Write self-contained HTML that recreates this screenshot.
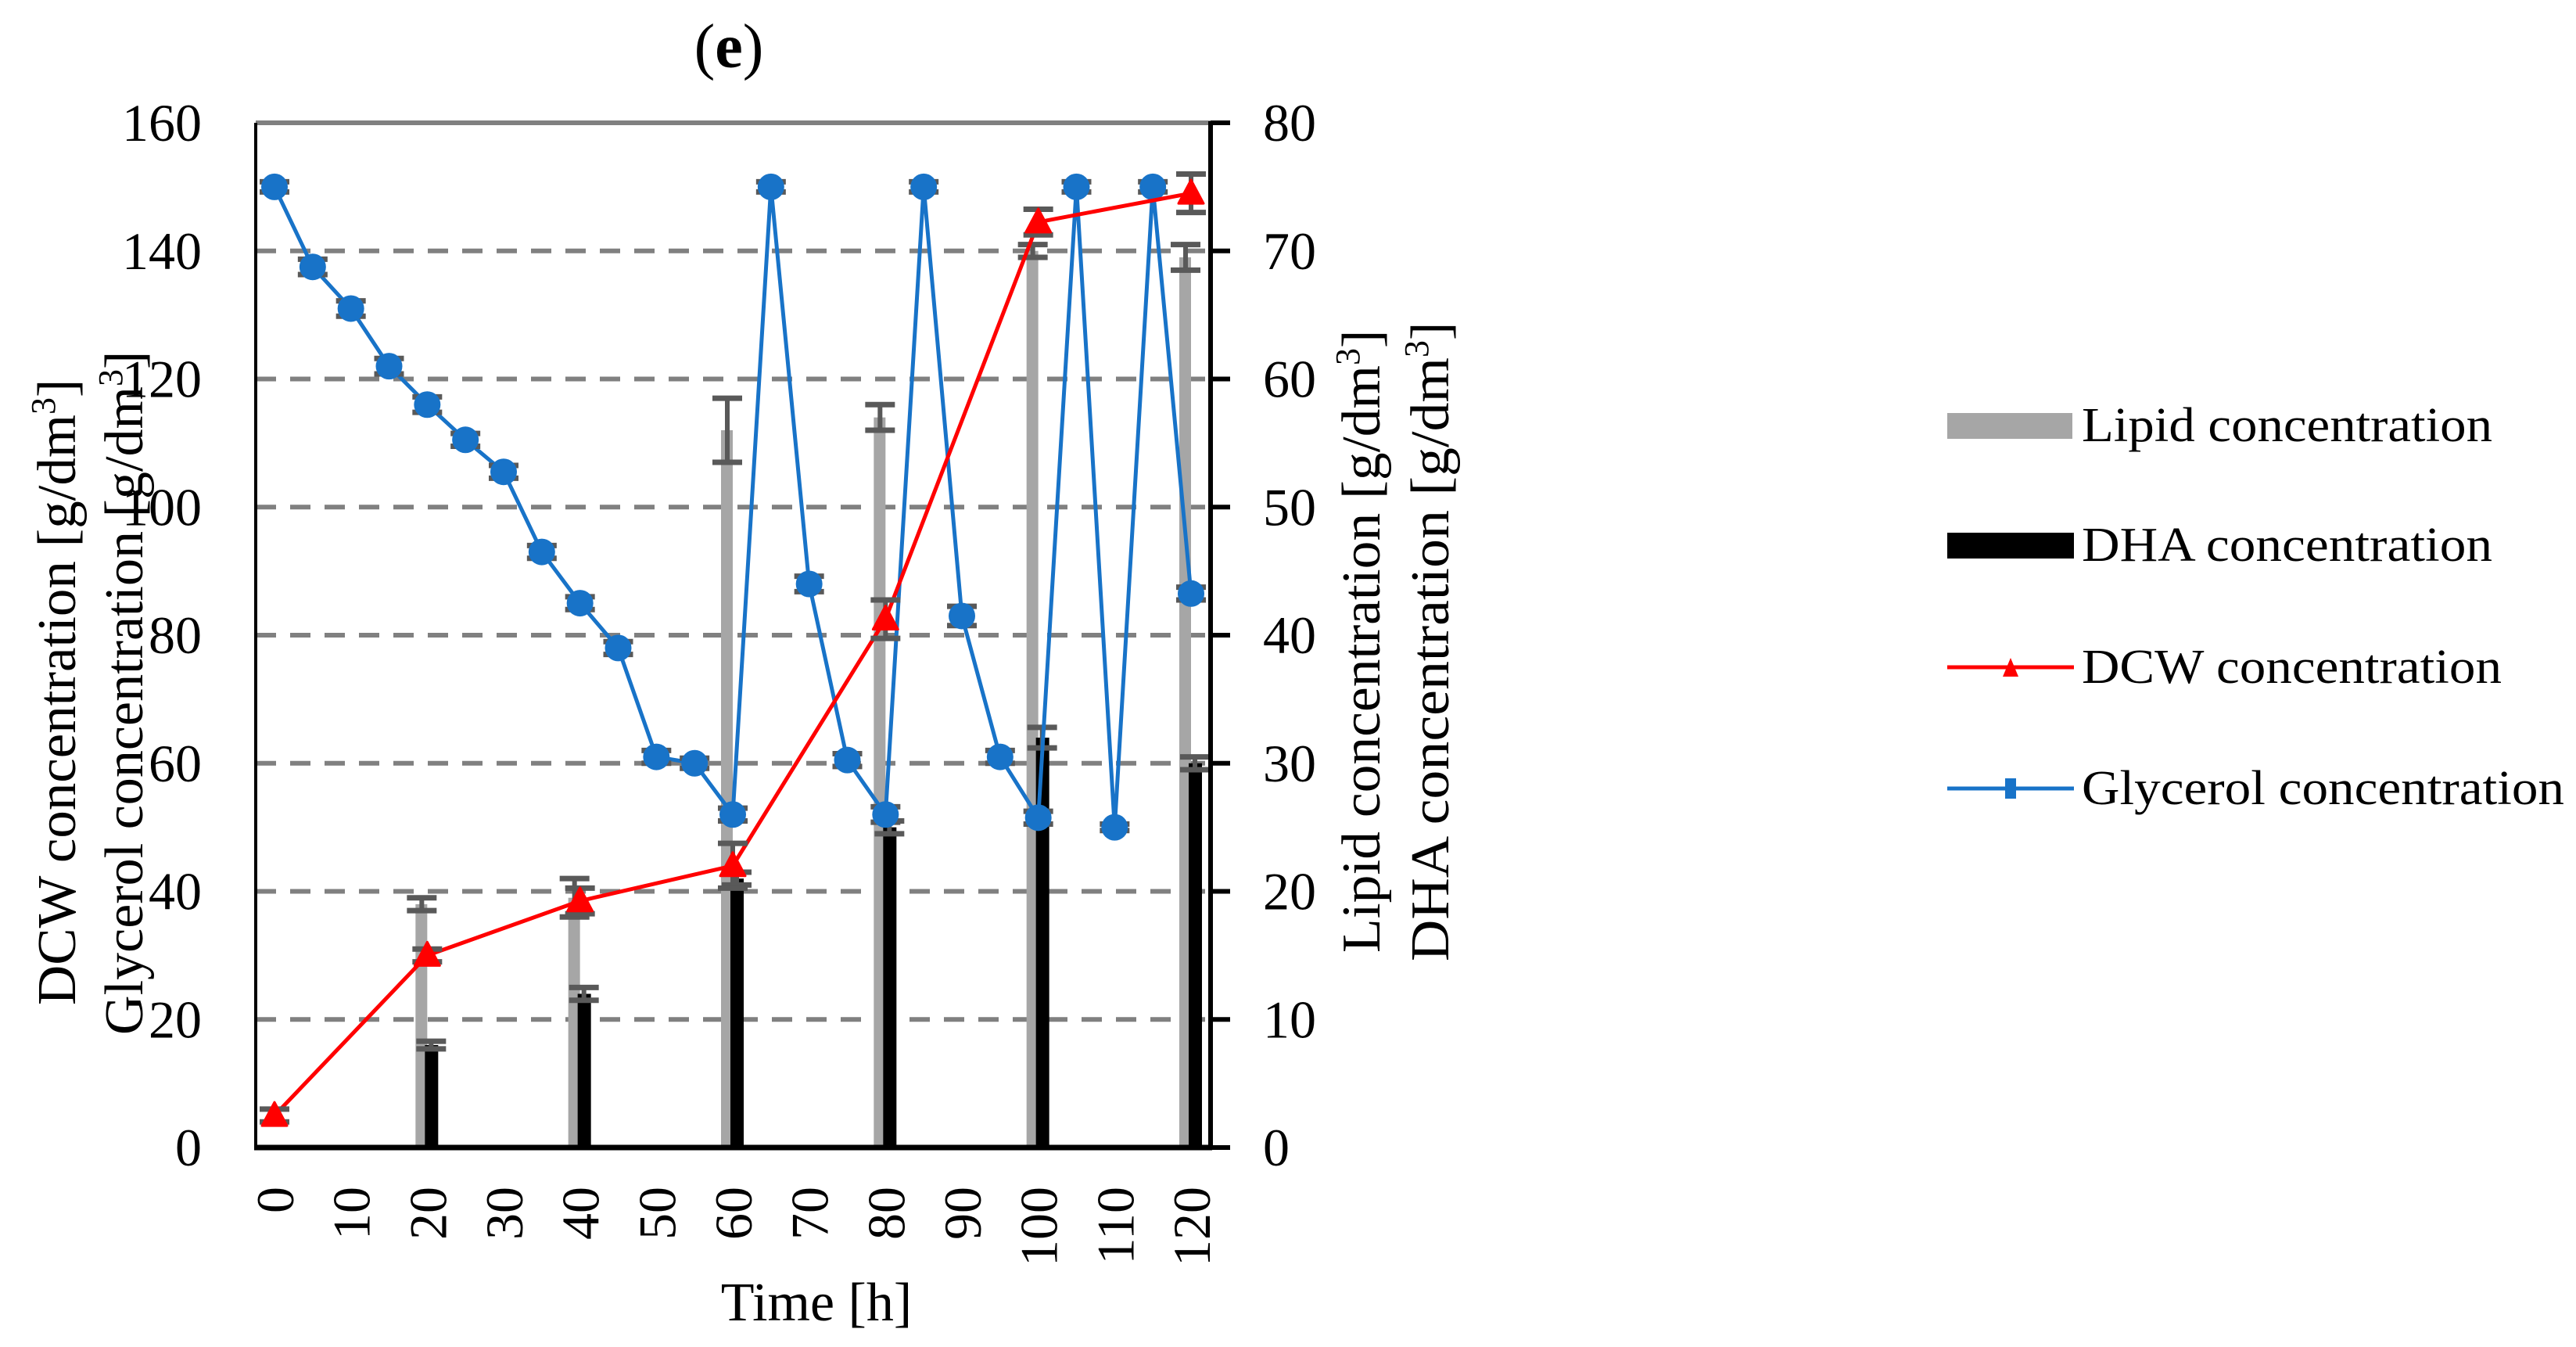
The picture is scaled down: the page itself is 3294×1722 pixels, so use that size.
<!DOCTYPE html>
<html><head><meta charset="utf-8"><style>
html,body{margin:0;padding:0;background:#fff;}
svg{display:block;font-family:"Liberation Serif",serif;}
</style></head><body>
<svg id="chart" width="3294" height="1722" viewBox="0 0 3294 1722" xmlns="http://www.w3.org/2000/svg"></svg>
<script>
const timesGly = [0,5,10,15,20,25,30,35,40,45,50,55,60,65,70,75,80,85,90,95,100,105,110,115,120];
const glycerol = [150,137.5,131,122,116,110.5,105.5,93,85,78,61,60,52,150,88,60.5,52,150,83,61,51.5,150,50,150,86.5];
const glyErr = [0.8,1.2,1.2,1.2,1.2,1,1,1,1,1,1,0.8,1,0.8,1.2,1,1.2,0.8,1.5,1,1,0.8,0.5,0.8,1];
const timesMain = [0,20,40,60,80,100,120];
const dcw = [5,30,38.5,44,82.5,144.5,149];
const dcwErr = [1,1,2,3.5,3,2,3];
const lipid = [0,19,19.5,56,57,70,69.5];
const lipidErr = [0,0.5,1.5,2.5,1,0.5,1];
const dha = [0,8,12,21,25,32,30];
const dhaErr = [0,0.3,0.5,0.5,0.5,0.8,0.5];
const leftTicks = [0,20,40,60,80,100,120,140,160];
const rightTicks = [0,10,20,30,40,50,60,70,80];
const xTicks = [0,10,20,30,40,50,60,70,80,90,100,110,120];

const svg = document.getElementById('chart');
const NS = 'http://www.w3.org/2000/svg';
const L = 327, R = 1548, T = 157, B = 1467;
const X0 = 351, X120 = 1523;
function xs(t){ return X0 + t*(X120-X0)/120; }
function yl(v){ return B - v*(B-T)/160; }
function yr(v){ return B - v*(B-T)/80; }
function mk(tag, attrs, parent){
  const e = document.createElementNS(NS, tag);
  for (const k in attrs) e.setAttribute(k, attrs[k]);
  (parent||svg).appendChild(e);
  return e;
}
function errBar(g, x, y1, y2, w){
  mk('line',{x1:x,x2:x,y1:y1,y2:y2,stroke:'#595959','stroke-width':6},g);
  mk('line',{x1:x-w,x2:x+w,y1:y1,y2:y1,stroke:'#595959','stroke-width':7},g);
  mk('line',{x1:x-w,x2:x+w,y1:y2,y2:y2,stroke:'#595959','stroke-width':7},g);
}

// title
const title = mk('text',{x:932,y:86,'font-size':80,'text-anchor':'middle'});


title.innerHTML = '(<tspan font-weight="bold">e</tspan>)';

// gridlines
const grid = mk('g',{});


leftTicks.forEach(v=>{
  if (v===0 || v===160) return;
  mk('line',{x1:L,x2:R,y1:yl(v),y2:yl(v),stroke:'#808080','stroke-width':6,'stroke-dasharray':'26 18'},grid);
});

// bars
const bars = mk('g',{});


timesMain.forEach((t,i)=>{
  if (lipid[i] <= 0) return;
  const x = xs(t);
  const r1 = mk('rect',{x:x-15,y:yr(lipid[i]),width:15,height:B-yr(lipid[i]),fill:'#a6a6a6'},bars);
  
  
  const r2 = mk('rect',{x:x-3,y:yr(dha[i]),width:17,height:B-yr(dha[i]),fill:'#000'},bars);
  
  
  errBar(bars, x-7, yr(lipid[i]+lipidErr[i]), yr(lipid[i]-lipidErr[i]), 19);
  errBar(bars, x+5, yr(dha[i]+dhaErr[i]), yr(dha[i]-dhaErr[i]), 19);
});

// glycerol line
const gg = mk('g',{});


mk('polyline',{points:timesGly.map((t,i)=>xs(t)+','+yl(glycerol[i])).join(' '),fill:'none',stroke:'#1873c8','stroke-width':5,'stroke-linejoin':'round'},gg);
timesGly.forEach((t,i)=>{
  errBar(gg, xs(t), yl(glycerol[i]+glyErr[i]), yl(glycerol[i]-glyErr[i]), 19);
  const c = mk('circle',{cx:xs(t),cy:yl(glycerol[i]),r:17,fill:'#1873c8'},gg);
  
  
});

// DCW line
const dg = mk('g',{});


mk('polyline',{points:timesMain.map((t,i)=>xs(t)+','+yl(dcw[i])).join(' '),fill:'none',stroke:'#ff0000','stroke-width':5},dg);
timesMain.forEach((t,i)=>{
  errBar(dg, xs(t), yl(dcw[i]+dcwErr[i]), yl(dcw[i]-dcwErr[i]), 19);
  const x = xs(t), y = yl(dcw[i]);
  const p = mk('polygon',{points:(x)+','+(y-17)+' '+(x+16)+','+(y+13)+' '+(x-16)+','+(y+13),fill:'#ff0000',stroke:'#ff0000','stroke-width':3,'stroke-linejoin':'round'},dg);
  
  
});

// axes
const ax = mk('g',{});


mk('line',{x1:L,x2:R,y1:T,y2:T,stroke:'#808080','stroke-width':6},ax);
mk('line',{x1:L,x2:L,y1:T,y2:B+3,stroke:'#000','stroke-width':4},ax);
mk('line',{x1:L-2,x2:R+2,y1:B,y2:B,stroke:'#000','stroke-width':7},ax);
mk('line',{x1:R,x2:R,y1:T-2,y2:B+3,stroke:'#000','stroke-width':6},ax);
rightTicks.forEach(v=>{
  mk('line',{x1:R,x2:R+25,y1:yr(v),y2:yr(v),stroke:'#000','stroke-width':6},ax);
  const tx = mk('text',{x:1615,y:yr(v)+23,'font-size':68});
  
  
  tx.textContent = v;
});
leftTicks.forEach(v=>{
  const tx = mk('text',{x:258,y:yl(v)+23,'font-size':68,'text-anchor':'end'});
  
  
  tx.textContent = v;
});
xTicks.forEach(t=>{
  const tx = mk('text',{x:0,y:0,'font-size':68,'text-anchor':'end',transform:'translate('+(xs(t)+24)+',1517) rotate(-90)'});
  
  
  tx.textContent = t;
});

// axis titles
const xt = mk('text',{x:1044,y:1688,'font-size':70,'text-anchor':'middle'});


xt.textContent = 'Time [h]';
function vtitle(x, y0, y1, name, txt){
  const len = y1 - y0;
  const t = mk('text',{x:0,y:0,'font-size':70,transform:'translate('+x+','+y1+') rotate(-90)'});
  
  
  const main = mk('tspan',{textLength:len-110,lengthAdjust:'spacingAndGlyphs'},t);
  main.textContent = txt + ' [g/dm';
  const sup = mk('tspan',{'font-size':44,dy:-26},t);
  sup.textContent = '3';
  const br = mk('tspan',{dy:26},t);
  br.textContent = ']';
}
vtitle(96, 420, 1285, 'left-axis-title-dcw', 'DCW concentration');
vtitle(182, 384, 1323, 'left-axis-title-glycerol', 'Glycerol concentration');
vtitle(1764, 357, 1218, 'right-axis-title-lipid', 'Lipid concentration');
vtitle(1852, 347, 1229, 'right-axis-title-dha', 'DHA concentration');

// legend
const lg = mk('g',{});


const legY = [544, 697, 853, 1008];
const legNames = ['Lipid concentration','DHA concentration','DCW concentration','Glycerol concentration'];
const legEnds = [3187, 3187, 3199, 3279];
legNames.forEach((n,i)=>{
  const e = mk('g',{},lg);
  
  
  const y = legY[i];
  if (i===0) mk('rect',{x:2490,y:y-16,width:160,height:33,fill:'#a6a6a6'},e);
  if (i===1) mk('rect',{x:2490,y:y-16,width:162,height:33,fill:'#000'},e);
  if (i===2){ mk('line',{x1:2490,x2:2652,y1:y,y2:y,stroke:'#ff0000','stroke-width':5},e);
    mk('polygon',{points:(2571)+','+(y-12)+' '+(2581)+','+(y+12)+' '+(2561)+','+(y+12),fill:'#ff0000'},e); }
  if (i===3){ mk('line',{x1:2490,x2:2652,y1:y,y2:y,stroke:'#1873c8','stroke-width':5},e);
    mk('rect',{x:2564,y:y-13,width:14,height:26,fill:'#1873c8'},e); }
  const t = mk('text',{x:2662,y:y+20,'font-size':62,textLength:legEnds[i]-2662,lengthAdjust:'spacingAndGlyphs'},e);
  t.textContent = n;
});
</script>
</body></html>
